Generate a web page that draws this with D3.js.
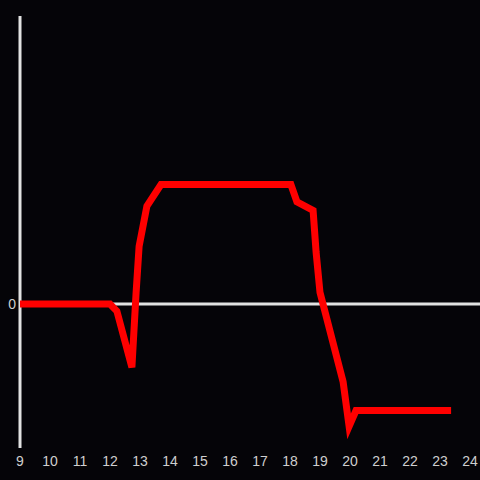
<!DOCTYPE html>
<html>
<head>
<meta charset="utf-8">
<script src="https://cdn.jsdelivr.net/npm/d3@7"></script>
<style>
  body { margin: 0; background: #050408; }
  text { font-family: "Liberation Sans", Arial, sans-serif; }
</style>
</head>
<body>
<div id="main"></div>
<script>
// hours of the day and the value read at each
var hours  = [9, 12, 12.23, 12.73, 12.87, 12.97, 13.23, 13.7, 18.03, 18.23, 18.77, 18.87, 19.0, 19.77, 19.97, 20.2, 23.37];
var values = [0, 0, -0.05, -0.44, 0.08, 0.40, 0.68, 0.83, 0.83, 0.71, 0.65, 0.36, 0.08, -0.54, -0.85, -0.74, -0.74];
var xTicks = [9, 10, 11, 12, 13, 14, 15, 16, 17, 18, 19, 20, 21, 22, 23, 24];
var yTicks = [0];

var W = 480, H = 480;

var svg = d3.select("#main")
  .append("svg")
    .attr("width", W)
    .attr("height", H)
    .style("background", "#050408");

var x = d3.scaleLinear()
  .domain([9, 24])
  .range([20, 470]);

var y = d3.scaleLinear()
  .domain([-1, 2])
  .range([448, 16]);

// y axis line
svg.append("line")
  .attr("x1", x(9)).attr("x2", x(9))
  .attr("y1", y(-1)).attr("y2", y(2))
  .attr("stroke", "#e2e2e2")
  .attr("stroke-width", 3);

// zero line
svg.append("line")
  .attr("x1", x(9)).attr("x2", W)
  .attr("y1", y(0)).attr("y2", y(0))
  .attr("stroke", "#e2e2e2")
  .attr("stroke-width", 3);

// x tick labels
svg.selectAll(".xlab")
  .data(xTicks)
  .enter().append("text")
    .attr("class", "xlab")
    .attr("x", function(d) { return x(d); })
    .attr("y", 466)
    .attr("text-anchor", "middle")
    .attr("fill", "#cfcfcf")
    .style("font-size", "14px")
    .text(function(d) { return d; });

// y tick labels
svg.selectAll(".ylab")
  .data(yTicks)
  .enter().append("text")
    .attr("class", "ylab")
    .attr("x", 16)
    .attr("y", function(d) { return y(d) + 5; })
    .attr("text-anchor", "end")
    .attr("fill", "#cfcfcf")
    .style("font-size", "14px")
    .text(function(d) { return d; });

var pts = hours.map(function(h, i) { return [h, values[i]]; });

var line = d3.line()
  .x(function(d) { return x(d[0]); })
  .y(function(d) { return y(d[1]); });

svg.append("path")
  .datum(pts)
  .attr("d", line)
  .attr("fill", "none")
  .attr("stroke", "#ff0000")
  .attr("stroke-width", 7)
  .attr("stroke-linejoin", "miter");
</script>
</body>
</html>
